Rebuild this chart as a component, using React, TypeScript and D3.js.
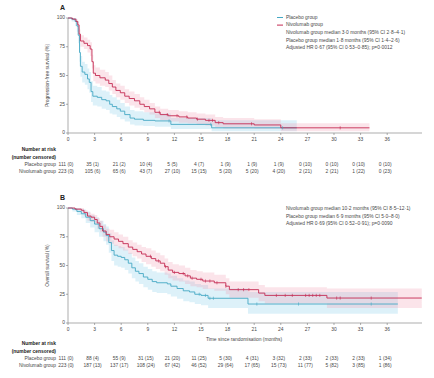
import React from "react";
import * as d3 from "d3";

// ---------- DATA ----------
const xTicks = [0, 3, 6, 9, 12, 15, 18, 21, 24, 27, 30, 33, 36];
const yTicks = [0, 25, 50, 75, 100];

// Panel A: progression-free survival
const pfsPlaceboT = [0, 0.4, 0.8, 1.0, 1.15, 1.3, 1.4, 1.6, 1.9, 2.2, 2.4, 2.6, 2.8, 3.3, 3.8, 4.3, 4.7, 5.0, 5.5, 5.9, 6.4, 7.0, 7.5, 8.5, 9.8, 11.6, 16.2];
const pfsPlaceboS = [100, 99, 97, 93, 85, 70, 58, 53, 51, 47, 44, 36, 32, 31, 29, 28, 25, 23, 21, 19, 16, 13, 12, 11, 10.5, 7.5, 4.5];
const pfsPlaceboLo = [100, 97, 93, 88, 78, 62, 49, 44, 42, 38, 35, 27, 24, 23, 21, 20, 17, 16, 14, 12, 10, 7.5, 6.5, 6, 5.5, 3.5, 1.5];
const pfsPlaceboHi = [100, 100, 100, 97, 91, 78, 67, 62, 60, 56, 53, 45, 41, 40, 37, 36, 33, 31, 29, 26, 23, 20, 19, 18, 17, 13, 11];
const pfsPlaceboEnd = 25.8;
const pfsPlaceboCens = [11.4, 16.1, 24.2];

const pfsNivoT = [0, 0.5, 0.9, 1.1, 1.25, 1.4, 1.8, 2.2, 2.5, 2.7, 2.85, 3.1, 3.6, 4.2, 4.6, 5.0, 5.4, 5.9, 6.4, 6.9, 7.5, 8.1, 8.6, 9.2, 9.8, 10.4, 11.3, 12.5, 13.5, 14.5, 15.5, 16.6, 17.5, 21, 24];
const pfsNivoS = [100, 99, 97, 94, 86, 80, 78, 76, 73, 62, 52, 50, 48, 46, 43, 40, 37, 35, 32, 30, 28, 25, 23, 21, 18, 16, 15, 14, 13, 12, 11, 9, 8, 7, 4.5];
const pfsNivoLo = [100, 98, 95, 91, 82, 75, 73, 70, 67, 56, 45, 43, 41, 40, 37, 34, 31, 29, 26, 24, 22, 20, 18, 16, 13, 11, 10, 9, 8.5, 7.5, 6.5, 5, 4, 3.5, 1.5];
const pfsNivoHi = [100, 100, 99, 97, 90, 85, 83, 81, 79, 68, 59, 57, 55, 53, 50, 46, 43, 41, 38, 36, 34, 31, 29, 26, 23, 21, 20, 19, 18, 17, 16, 14, 13, 12, 8.5];
const pfsNivoEnd = 34;
const pfsNivoCens = [10.3, 11.2, 12.3, 13.4, 14.6, 15.9, 16.3, 17.0, 20.7, 30.7];

// Panel B: overall survival
const osPlaceboT = [0, 0.5, 1.0, 1.5, 2.0, 2.5, 3.0, 3.5, 4.0, 4.3, 4.6, 4.9, 5.2, 5.6, 6.0, 6.4, 6.8, 7.2, 7.6, 8.0, 8.5, 9.0, 9.5, 10.0, 11.2, 11.6, 12.3, 13.0, 13.7, 14.3, 15.0, 15.8, 20.3];
const osPlaceboS = [100, 99, 97, 95, 92, 89, 86, 82, 79, 76, 70, 63, 59, 58, 57, 55, 52, 48, 45, 43, 40, 38, 36, 35, 34, 32, 30, 28, 27, 25, 24, 21.5, 16.5];
const osPlaceboLo = [100, 97, 94, 91, 87, 83, 79, 75, 71, 68, 61, 54, 50, 49, 48, 46, 43, 39, 36, 34, 31, 29, 27, 26, 25, 23, 21, 19, 18, 16.5, 15.5, 13, 8];
const osPlaceboHi = [100, 100, 100, 99, 97, 94, 92, 89, 86, 84, 78, 72, 68, 67, 66, 64, 61, 57, 54, 52, 49, 47, 45, 44, 43, 41, 39, 37, 36, 34, 33, 30, 27];
const osPlaceboEnd = 37.2;
const osPlaceboCens = [14.8, 15.5, 16.0, 16.4, 21.3, 26.0, 34.2];

const osNivoT = [0, 0.8, 1.5, 1.8, 2.2, 2.6, 3.0, 3.3, 3.6, 3.9, 4.3, 4.7, 5.2, 5.7, 6.2, 6.8, 7.3, 7.8, 8.3, 8.8, 9.4, 9.9, 10.4, 10.9, 11.3, 11.8, 12.5, 13.2, 13.8, 14.5, 15.2, 16.5, 17.8, 18.2, 21.5, 22.2, 29.2];
const osNivoS = [100, 99, 98, 96, 93, 92, 90, 87, 84, 80, 77, 75, 73, 71, 69, 66, 64, 62, 60, 58, 56, 54, 52, 49, 46, 44, 43, 41, 39, 38, 36.5, 35, 32, 29, 26, 24, 21.7];
const osNivoLo = [100, 98, 96, 93, 89, 88, 86, 82, 79, 75, 71, 69, 67, 65, 63, 60, 58, 56, 53, 51, 49, 47, 45, 42, 39, 37, 36, 34, 32, 31, 29.5, 28, 25, 22, 19, 17, 13];
const osNivoHi = [100, 100, 100, 98, 96, 95, 94, 91, 89, 85, 82, 81, 79, 77, 75, 72, 70, 68, 66, 65, 63, 61, 59, 56, 53, 51, 50, 48, 46, 45, 44, 42, 39, 36, 33, 31, 30];
const osNivoEnd = 39.9;
const osNivoCens = [9.3, 10.2, 11.0, 12.0, 13.0, 13.5, 14.0, 15.0, 15.5, 16.0, 16.8, 17.8, 19.2, 19.8, 20.4, 23.5, 24.5, 25.3, 26.8, 27.2, 27.6, 28.0, 28.4, 30.3, 30.7, 34.2];

// Number at risk tables
const pfsRiskPlacebo = ["111 (0)", "35 (1)", "21 (2)", "10 (4)", "5 (5)", "4 (7)", "1 (9)", "1 (9)", "1 (9)", "0 (10)", "0 (10)", "0 (10)", "0 (10)"];
const pfsRiskNivo = ["223 (0)", "105 (6)", "65 (6)", "43 (7)", "27 (10)", "15 (15)", "5 (20)", "5 (20)", "4 (20)", "2 (21)", "2 (21)", "1 (22)", "0 (23)"];
const osRiskPlacebo = ["111 (0)", "88 (4)", "55 (9)", "31 (15)", "21 (20)", "11 (25)", "5 (30)", "4 (31)", "3 (32)", "2 (33)", "2 (33)", "2 (33)", "1 (34)"];
const osRiskNivo = ["223 (0)", "187 (13)", "137 (17)", "108 (24)", "67 (42)", "46 (52)", "29 (64)", "17 (65)", "15 (73)", "11 (77)", "5 (82)", "3 (85)", "1 (86)"];

const pfsLegend = [
  "Nivolumab group median 3·0 months (95% CI 2·8–4·1)",
  "Placebo group median 1·8 months (95% CI 1·4–2·6)",
  "Adjusted HR 0·67 (95% CI 0·53–0·85); p=0·0012",
];
const osLegend = [
  "Nivolumab group median 10·2 months (95% CI 8·5–12·1)",
  "Placebo group median 6·9 months (95% CI 5·0–8·0)",
  "Adjusted HR 0·69 (95% CI 0·52–0·91); p=0·0090",
];

// ---------- STYLE ----------
const TEAL = "#45a8c4";
const RED = "#c42a52";
const TEAL_FILL = "rgba(150,210,235,0.32)";
const RED_FILL = "rgba(240,150,172,0.26)";
const AXIS = "#777";
const TXT = "#484848";
const FONT = "'Liberation Sans', Arial, sans-serif";
const FS = 4.9;

type Curve = { t: number[]; s: number[]; lo: number[]; hi: number[]; end: number; cens: number[]; color: string; fill: string };

function stepVal(c: Curve, x: number) {
  let v = c.s[0];
  for (let i = 0; i < c.t.length; i++) if (c.t[i] <= x) v = c.s[i];
  return v;
}

function Panel(props: {
  top: number; bottom: number; letter: string; ylabel: string; curves: Curve[];
  legend: string[]; legendTop: number; showSeriesLegend: boolean;
  riskTop: number; riskPlacebo: string[]; riskNivo: string[]; xlabel?: string;
}) {
  const x = d3.scaleLinear().domain([0, 39.7]).range([68, 420]);
  const y = d3.scaleLinear().domain([0, 100]).range([props.bottom, props.top]);
  const line = d3.line<[number, number]>().x((d) => x(d[0])).y((d) => y(d[1])).curve(d3.curveStepAfter);
  const area = d3.area<[number, number, number]>().x((d) => x(d[0])).y0((d) => y(d[1])).y1((d) => y(d[2])).curve(d3.curveStepAfter);
  const midY = (props.top + props.bottom) / 2;
  const lg = props.legendTop;
  const lgStep = 7.6;
  const rt = props.riskTop;
  return (
    <g>
      <text x={60} y={props.top - 8} fontSize={7} fontWeight="bold" fill="#222" fontFamily={FONT}>{props.letter}</text>
      {props.curves.map((c, i) => {
        const pts: [number, number, number][] = c.t.map((t, j) => [t, c.lo[j], c.hi[j]]);
        pts.push([c.end, c.lo[c.lo.length - 1], c.hi[c.hi.length - 1]]);
        return <path key={"b" + i} d={area(pts) || ""} fill={c.fill} stroke="none" />;
      })}
      {props.curves.map((c, i) => {
        const pts: [number, number][] = c.t.map((t, j) => [t, c.s[j]]);
        pts.push([c.end, c.s[c.s.length - 1]]);
        return <path key={"l" + i} d={line(pts) || ""} fill="none" stroke={c.color} strokeWidth={0.9} />;
      })}
      {props.curves.map((c, i) =>
        c.cens.map((ct, k) => {
          const yy = y(stepVal(c, ct));
          return <line key={"c" + i + "-" + k} x1={x(ct)} x2={x(ct)} y1={yy - 1.6} y2={yy + 1.6} stroke={c.color} strokeWidth={0.6} />;
        })
      )}
      <line x1={x(0)} x2={x(0)} y1={y(0)} y2={y(100)} stroke={AXIS} strokeWidth={0.6} />
      <line x1={x(0)} x2={422} y1={y(0)} y2={y(0)} stroke={AXIS} strokeWidth={0.6} />
      {yTicks.map((v) => (
        <g key={"yt" + v}>
          <line x1={x(0) - 2} x2={x(0)} y1={y(v)} y2={y(v)} stroke={AXIS} strokeWidth={0.6} />
          <text x={x(0) - 3} y={y(v)} fontSize={FS} fill={TXT} textAnchor="end" dominantBaseline="middle" fontFamily={FONT}>{v}</text>
        </g>
      ))}
      {xTicks.map((v) => (
        <g key={"xt" + v}>
          <line x1={x(v)} x2={x(v)} y1={y(0)} y2={y(0) + 2} stroke={AXIS} strokeWidth={0.6} />
          <text x={x(v)} y={y(0) + 7} fontSize={FS} fill={TXT} textAnchor="middle" dominantBaseline="middle" fontFamily={FONT}>{v}</text>
        </g>
      ))}
      <text transform={`translate(49,${midY}) rotate(-90)`} fontSize={FS} fill={TXT} textAnchor="middle" fontFamily={FONT}>{props.ylabel}</text>
      {props.xlabel && (
        <text x={244} y={y(0) + 17} fontSize={FS} fill={TXT} textAnchor="middle" dominantBaseline="middle" fontFamily={FONT}>{props.xlabel}</text>
      )}
      {props.showSeriesLegend && (
        <g>
          <line x1={277} x2={283} y1={lg} y2={lg} stroke={TEAL} strokeWidth={1} />
          <text x={286} y={lg} fontSize={FS} fill={TXT} dominantBaseline="middle" fontFamily={FONT}>Placebo group</text>
          <line x1={277} x2={283} y1={lg + lgStep} y2={lg + lgStep} stroke={RED} strokeWidth={1} />
          <text x={286} y={lg + lgStep} fontSize={FS} fill={TXT} dominantBaseline="middle" fontFamily={FONT}>Nivolumab group</text>
        </g>
      )}
      {props.legend.map((s, i) => (
        <text key={"lg" + i} x={286} y={lg + (props.showSeriesLegend ? 2 : 0) * lgStep + i * lgStep} fontSize={FS} fill={TXT} dominantBaseline="middle" fontFamily={FONT}>{s}</text>
      ))}
      <text x={56} y={rt} fontSize={FS} fontWeight="bold" fill="#222" textAnchor="end" dominantBaseline="middle" fontFamily={FONT}>Number at risk</text>
      <text x={56} y={rt + 7.5} fontSize={FS} fontWeight="bold" fill="#222" textAnchor="end" dominantBaseline="middle" fontFamily={FONT}>(number censored)</text>
      <text x={56} y={rt + 15} fontSize={FS} fill={TXT} textAnchor="end" dominantBaseline="middle" fontFamily={FONT}>Placebo group</text>
      <text x={56} y={rt + 22} fontSize={FS} fill={TXT} textAnchor="end" dominantBaseline="middle" fontFamily={FONT}>Nivolumab group</text>
      {xTicks.map((v, i) => (
        <g key={"r" + v}>
          <text x={x(v) - 2} y={rt + 15} fontSize={FS} fill={TXT} textAnchor="middle" dominantBaseline="middle" fontFamily={FONT}>{props.riskPlacebo[i]}</text>
          <text x={x(v) - 2} y={rt + 22} fontSize={FS} fill={TXT} textAnchor="middle" dominantBaseline="middle" fontFamily={FONT}>{props.riskNivo[i]}</text>
        </g>
      ))}
    </g>
  );
}

export default function App() {
  const pfs: Curve[] = [
    { t: pfsPlaceboT, s: pfsPlaceboS, lo: pfsPlaceboLo, hi: pfsPlaceboHi, end: pfsPlaceboEnd, cens: pfsPlaceboCens, color: TEAL, fill: TEAL_FILL },
    { t: pfsNivoT, s: pfsNivoS, lo: pfsNivoLo, hi: pfsNivoHi, end: pfsNivoEnd, cens: pfsNivoCens, color: RED, fill: RED_FILL },
  ];
  const os: Curve[] = [
    { t: osPlaceboT, s: osPlaceboS, lo: osPlaceboLo, hi: osPlaceboHi, end: osPlaceboEnd, cens: osPlaceboCens, color: TEAL, fill: TEAL_FILL },
    { t: osNivoT, s: osNivoS, lo: osNivoLo, hi: osNivoHi, end: osNivoEnd, cens: osNivoCens, color: RED, fill: RED_FILL },
  ];
  return (
    <svg width={434} height={378} style={{ position: "absolute", left: 0, top: 0, background: "#fff" }}>
      <rect width={434} height={378} fill="#fff" />
      <Panel top={18} bottom={133} letter="A" ylabel="Progression-free survival (%)" curves={pfs}
        legend={pfsLegend} legendTop={17.5} showSeriesLegend={true}
        riskTop={150} riskPlacebo={pfsRiskPlacebo} riskNivo={pfsRiskNivo} />
      <Panel top={208} bottom={323} letter="B" ylabel="Overall survival (%)" curves={os}
        legend={osLegend} legendTop={209} showSeriesLegend={false}
        riskTop={344} riskPlacebo={osRiskPlacebo} riskNivo={osRiskNivo}
        xlabel="Time since randomisation (months)" />
    </svg>
  );
}
